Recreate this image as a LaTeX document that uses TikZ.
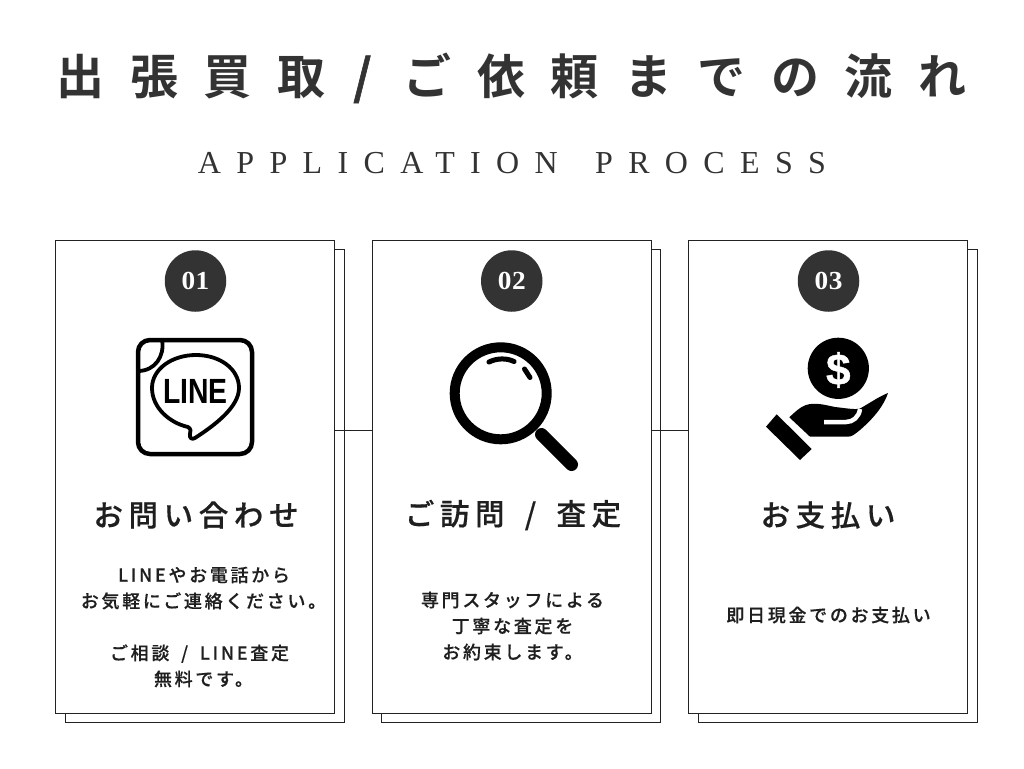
\documentclass[tikz,border=0pt]{standalone}
\usepackage{fontspec}
\setmainfont{Liberation Serif}
\newfontfamily\jptitle[LetterSpace=53.2]{Noto Sans CJK JP Bold}
\newfontfamily\jpslash[FakeBold=1.2]{Noto Sans CJK JP Bold}
\newfontfamily\jphead[LetterSpace=19,FakeBold=0.5]{Noto Sans CJK JP Medium}
\newfontfamily\jpbody[LetterSpace=15,FakeBold=0.3]{Noto Sans CJK JP Medium}
\newfontfamily\sertitle[LetterSpace=48]{Liberation Serif}
\newfontfamily\numfont[LetterSpace=2]{Liberation Serif Bold}
\newfontfamily\sanslogo{Liberation Sans Bold}
\newfontfamily\sansheavy[FakeBold=1]{Liberation Sans Bold}
\definecolor{ink}{HTML}{333333}
\definecolor{card}{HTML}{222222}
\tikzset{
  x=1pt,y=-1pt,
  cardbox/.style={draw=card,line width=1pt,fill=white,minimum width=279pt,minimum height=472.5pt,inner sep=0pt,outer sep=0pt},
  badge/.style={circle,fill=ink,minimum size=61.5pt,inner sep=0pt,text=white},
  badgetext/.style={text=white,font=\numfont\fontsize{26}{28}\selectfont,inner sep=0pt,xscale=1.05},
  heading/.style={text=black!88,font=\jphead\fontsize{29.5}{34}\selectfont,inner sep=0pt},
  bodytext/.style={text=black!88,align=center,font=\jpbody\fontsize{18}{26}\selectfont,inner sep=0pt},
  link/.style={draw=card,line width=0.9pt},
  icon/.style={draw=black,line width=4.5pt,line join=round,line cap=round}
}
\begin{document}
\begin{tikzpicture}
\useasboundingbox (0,0) rectangle (1024,768);
\fill[white] (0,0) rectangle (1024,768);
\node[text=ink,font=\jptitle\fontsize{48}{54}\selectfont,inner sep=0pt] (title) at (511.5,78) {出張買取\hspace{28pt}{\jpslash /}\hspace{32pt}ご依頼までの流れ};
\node[text=ink,font=\sertitle\fontsize{32}{36}\selectfont,inner sep=0pt] (subtitle) at (512,163) {APPLICATION\hspace{14pt} PROCESS};

\node[cardbox] (shadow1) at (204.5,485.75) {};
\node[cardbox] (shadow2) at (521,485.75) {};
\node[cardbox] (shadow3) at (837.75,485.75) {};
\node[cardbox] (card1) at (195,476.75) {};
\node[cardbox] (card2) at (511.75,476.75) {};
\node[cardbox] (card3) at (828.25,476.75) {};
\coordinate (linkY) at (0,430.5);
\draw[link] (card1.east |- linkY) -- (card2.west |- linkY);
\draw[link] (card2.east |- linkY) -- (card3.west |- linkY);

\node[badge] (n1) at (195.5,281) {};
\node[badge] (n2) at (511.75,281) {};
\node[badge] (n3) at (828.5,281) {};
\node[badgetext] (t1) at (n1) {01};
\node[badgetext] (t2) at (n2) {02};
\node[badgetext] (t3) at (n3) {03};

% LINE icon
\draw[icon] (136+14,340) -- (240,340) arc[start angle=-90,end angle=0,radius=12,y=-1pt] -- (252,442) arc[start angle=0,end angle=90,radius=12,y=-1pt] -- (150,454) arc[start angle=90,end angle=180,radius=12,y=-1pt] -- (138,352) arc[start angle=180,end angle=270,radius=12,y=-1pt] -- cycle;
\draw[icon,line width=3.8pt] (162,340) .. controls (165,356) and (155,371) .. (138,371);
\draw[icon,line width=3.8pt] (188,427) .. controls (191,429) and (191,431) .. (190,434) .. controls (189,438) and (192,440) .. (195,438)
  .. controls (215,425) and (239,407) .. (239,388) .. controls (239,369) and (220,355) .. (196,355)
  .. controls (172,355) and (152,369) .. (152,388) .. controls (152,408) and (170,423) .. (188,427) -- cycle;
\node[font=\sanslogo\fontsize{35}{38}\selectfont,inner sep=0pt,xscale=0.81] (logo) at (195.5,391) {LINE};

% magnifier
\draw[black,line width=10pt] (500.7,393.3) circle[radius=46];
\draw[black,line width=13pt,line cap=round] (541.5,434.5) -- (571.5,464.5);
\draw[black,line width=5pt,line cap=round] (489,362) .. controls (497,358) and (507,358) .. (514,361.5);
\draw[black,line width=5pt,line cap=round] (524.5,369) -- (530,377.5);

% money hand
\fill[black] (838.3,368.3) circle[radius=30.6];
\node[text=white,font=\sansheavy\fontsize{44}{48}\selectfont,inner sep=0pt] (dollar) at (838.3,370) {\$};
\fill[black] (766,426.7) -- (776.7,414.3) -- (811.7,449) -- (800,460) -- cycle;
\fill[black] (789.3,417.3) .. controls (795,412) and (800,407) .. (806,405) .. controls (815,402) and (825,405) .. (835,407)
  .. controls (845,408) and (855,410) .. (860,408.5) .. controls (870,403) and (878,397) .. (888,393)
  .. controls (884,405) and (875,417) .. (860,430) .. controls (855,434) and (852,436.7) .. (848,436.7) -- (810,436.7) -- cycle;
\draw[white,line width=4.5pt] (824,422) -- (846,422) .. controls (853,422) and (859,417) .. (860,409);

\node[heading] (h1) at (196,515) {お問い合わせ};
\node[heading] (h2) at (513,515) {ご訪問 \hspace{8pt}/\hspace{8pt} 査定};
\node[heading] (h3) at (828,515) {お支払い};

\node[bodytext] (b1) at (203.5,627) {\hspace*{1pt}LINEやお電話から\\お気軽にご連絡ください。\\\mbox{}\\ご相談 \hspace{5pt}/\hspace{5pt} LINE査定\rule{8pt}{0pt}\\無料です。};
\node[bodytext] (b2) at (512.5,626) {専門スタッフによる\\丁寧な査定を\\お約束します。};
\node[bodytext] (b3) at (828.5,615) {即日現金でのお支払い};
\end{tikzpicture}
\end{document}
